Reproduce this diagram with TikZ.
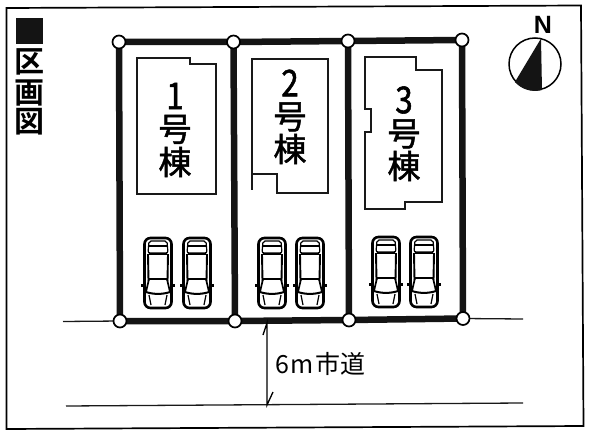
\documentclass[tikz,border=0pt]{standalone}
\usepackage{fontspec}
\newfontfamily\jpfont{Noto Sans CJK JP}
\newfontfamily\jpmed[FakeBold=1.5]{Noto Sans CJK JP}
\newfontfamily\jpbold{Noto Sans CJK JP Bold}
\newcommand{\tallnum}[1]{\scalebox{0.95}[1.12]{#1}}
\tikzset{
  x=1pt,y=-1pt,
  frameline/.style={draw=black,line width=1.7pt},
  fence/.style={draw=black!92,line width=6.5pt},
  post/.style={circle,draw=black,fill=white,line width=1.7pt,minimum size=13pt,inner sep=0pt},
  roadline/.style={draw=black!90,line width=1.3pt},
  house/.style={draw=black!90,line width=1.3pt},
  housetext/.style={font=\jpmed\fontsize{33}{33}\selectfont,inner sep=0pt},
  titletext/.style={font=\jpbold\fontsize{30}{30}\selectfont,inner sep=0pt},
  carbody/.style={draw=black,line width=2.6pt,rounded corners=6pt},
  carline/.style={draw=black,line width=1.2pt},
  carpic/.pic={
    \draw[carbody] (-13.5,1) rectangle (13.5,71);
    \draw[carline,rounded corners=2pt] (-9,4) -- (9,4) -- (10,16) -- (-10,16) -- cycle;
    \draw[carline] (-10,9) -- (10,9);
    \draw[carline,line width=1.9pt] (-10,17) -- (-9.5,44) (10,17) -- (9.5,44);
    \draw[carline] (-9,17) -- (9,17);
    \draw[carline] (-9,42) -- (9,42);
    \draw[carline,line width=1.7pt] (-9,42) -- (-12,55) (9,42) -- (12,55);
    \draw[carline,line width=2pt] (-12,55) .. controls (-5,57.5) and (5,57.5) .. (12,55);
    \draw[carline] (-9,58) -- (-7,68) (9,58) -- (7,68);
    \draw[line width=2.8pt,black] (-13,48.5) -- (-17,48.5) (13,48.5) -- (17,48.5);
  }
}
\begin{document}
\begin{tikzpicture}
\useasboundingbox (0,0) rectangle (600,433);
\fill[white] (0,0) rectangle (600,433);
% frame
\draw[frameline] (6.5,8) -- (581,5.5) -- (583.5,426) -- (6.5,429) -- cycle;
% title
\fill[black!92] (16,18) rectangle (43,44);
\node[titletext] (t1) at (29.5,62) {区};
\node[titletext] (t2) at (29.5,93) {画};
\node[titletext] (t3) at (29.5,122) {図};
% corner points
\coordinate (a1) at (119,42);
\coordinate (a2) at (233.5,42);
\coordinate (a3) at (348,41);
\coordinate (a4) at (462,40);
\coordinate (b1) at (120,321);
\coordinate (b2) at (235,321);
\coordinate (b3) at (349,320);
\coordinate (b4) at (463,318.5);
% road lines
\coordinate (rl1) at (63,321.5);
\coordinate (rr1) at (523,319);
\coordinate (rl2) at (66,406);
\coordinate (rr2) at (523,403);
\draw[roadline] (rl1) -- (b1);
\draw[roadline] (b4) -- (rr1);
\draw[roadline] (rl2) -- (rr2);
% fences
\draw[fence] (a1) -- (a2) -- (a3) -- (a4);
\draw[fence] (b1) -- (b2) -- (b3) -- (b4);
\draw[fence] (a1) -- (b1) (a2) -- (b2) (a3) -- (b3) (a4) -- (b4);
\foreach \p/\n in {a1/A1,a2/A2,a3/A3,a4/A4,b1/B1,b2/B2,b3/B3,b4/B4}
  \node[post] (\n) at (\p) {};
% houses
\draw[house] (137,58) -- (190,58) -- (190,64) -- (216,64) -- (216,194) -- (137,194) -- cycle;
\draw[house] (252,190) -- (252,59) -- (328,59) -- (328,193) -- (277,193) -- (277,174) -- (252,174);
\draw[house] (365,57) -- (416,57) -- (416,70) -- (442,70) -- (442,202) -- (405,202) -- (405,209) -- (365,209) -- (365,132) -- (371,132) -- (371,109) -- (365,109) -- cycle;
\node[housetext] (h1a) at (175,96) {\tallnum{1}};
\node[housetext] (h1b) at (175,129.5) {号};
\node[housetext] (h1c) at (175,162) {棟};
\node[housetext] (h2a) at (290,83) {\tallnum{2}};
\node[housetext] (h2b) at (290,117) {号};
\node[housetext] (h2c) at (290,149) {棟};
\node[housetext] (h3a) at (404,100) {\tallnum{3}};
\node[housetext] (h3b) at (404,134) {号};
\node[housetext] (h3c) at (404,166) {棟};
% cars
\pic at (158,237) {carpic};
\pic at (197,237) {carpic};
\pic at (272,237) {carpic};
\pic at (310,237) {carpic};
\pic at (386,236) {carpic};
\pic at (424,236) {carpic};
% width arrow
\coordinate (w1) at (267,323);
\coordinate (w2) at (267,405);
\draw[black,line width=1.3pt] (263,335) -- (w1) -- (w2) -- (273,392);
\node[inner sep=0pt,anchor=west,font=\jpfont\fontsize{25}{25}\selectfont] (lab) at (275,364) {6\kern1pt m\kern2pt 市道};
% north
\node[circle,draw=black,line width=1.5pt,minimum size=52pt,inner sep=0pt] (comp) at (535,64) {};
\fill[black!92] (541,38.5) -- (542,90) arc (75:138:27) -- cycle;
\node[inner sep=0pt,font=\fontspec{Liberation Sans}\bfseries\fontsize{25}{25}\selectfont] (nn) at (543,25) {N};
\end{tikzpicture}
\end{document}
